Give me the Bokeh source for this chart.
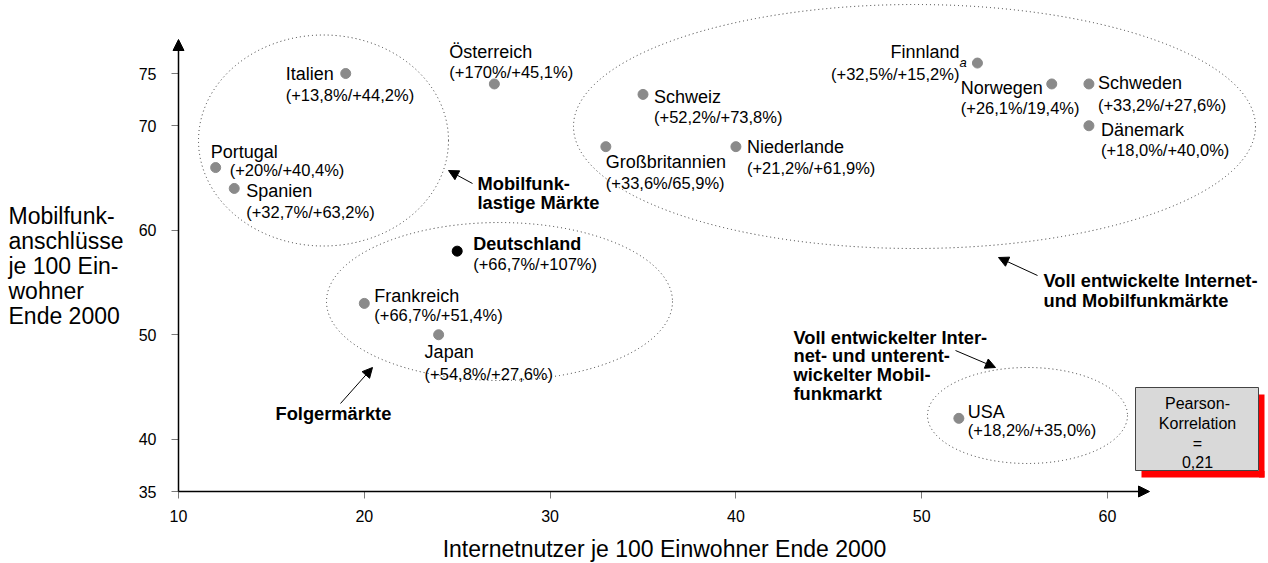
from bokeh.plotting import figure
from bokeh.models import (ColumnDataSource, Range1d, FixedTicker, Label, Arrow,
                          NormalHead)
from bokeh.core.properties import value
from bokeh.embed import file_html
from bokeh.resources import INLINE

# ---------------- data ----------------
countries = ["Italien", "Portugal", "Spanien", "Österreich", "Schweiz",
             "Großbritannien", "Niederlande", "Finnland", "Norwegen", "Schweden",
             "Dänemark", "Deutschland", "Frankreich", "Japan", "USA"]
internet_users = [19, 12, 13, 27, 35, 33, 40, 53, 57, 59, 59, 25, 20, 24, 52]
mobile_subs = [75, 66, 64, 74, 73, 68, 68, 76, 74, 74, 70, 58, 53, 50, 42]
growth = ["(+13,8%/+44,2%)", "(+20%/+40,4%)", "(+32,7%/+63,2%)", "(+170%/+45,1%)",
          "(+52,2%/+73,8%)", "(+33,6%/65,9%)", "(+21,2%/+61,9%)", "(+32,5%/+15,2%)",
          "(+26,1%/19,4%)", "(+33,2%/+27,6%)", "(+18,0%/+40,0%)", "(+66,7%/+107%)",
          "(+66,7%/+51,4%)", "(+54,8%/+27,6%)", "(+18,2%/+35,0%)"]
x_ticks = [10, 20, 30, 40, 50, 60]
y_ticks = [35, 40, 50, 60, 70, 75]
pearson = "0,21"

# ---------------- layout (screen px offsets of labels from dots) ----------------
name_off = {"Italien": (-60, 0, "left"), "Portugal": (-5, -16, "left"),
            "Spanien": (12, 3, "left"), "Österreich": (-45, -32, "left"),
            "Schweiz": (11, 3, "left"), "Großbritannien": (0, 15, "left"),
            "Niederlande": (11, 0, "left"), "Finnland": (-18, -11, "right"),
            "Norwegen": (-91, 4, "left"), "Schweden": (9, -1, "left"),
            "Dänemark": (12, 4, "left"), "Deutschland": (16, -7, "left"),
            "Frankreich": (10, -7, "left"), "Japan": (-14, 17, "left"),
            "USA": (9, -6, "left")}
growth_off = {"Italien": (-60, 21, "left"), "Portugal": (14, 2, "left"),
              "Spanien": (12, 24, "left"), "Österreich": (-45, -12, "left"),
              "Schweiz": (11, 23, "left"), "Großbritannien": (0, 36, "left"),
              "Niederlande": (11, 21, "left"), "Finnland": (-18, 11, "right"),
              "Norwegen": (-91, 24, "left"), "Schweden": (9, 21, "left"),
              "Dänemark": (12, 24, "left"), "Deutschland": (16, 13, "left"),
              "Frankreich": (10, 12, "left"), "Japan": (-14, 39, "left"),
              "USA": (9, 12, "left")}

FONT = "Liberation Sans"
W, H = 1268, 563
X0_PX, Y0_PX, KX, KY = 178, 491, 18.58, 10.45  # px of (10,35), px per unit


def dx(px):
    return 10 + (px - X0_PX) / KX


def dy(py):
    return 35 + (Y0_PX - py) / KY


p = figure(width=W, height=H, output_backend="svg", toolbar_location=None,
           x_range=Range1d(dx(0), dx(W)), y_range=Range1d(dy(H), dy(0)),
           min_border=0, min_border_left=0, min_border_right=0, min_border_top=0,
           min_border_bottom=0, title=None)
p.outline_line_color = None
p.grid.visible = False
p.background_fill_color = "white"
p.border_fill_color = "white"

for ax in (p.xaxis[0], p.yaxis[0]):
    ax.axis_line_color = None
    ax.major_tick_line_color = "#7a7a7a"
    ax.major_tick_in = 0
    ax.major_tick_out = 7
    ax.minor_tick_line_color = None
    ax.major_label_text_font = FONT
    ax.major_label_text_font_size = "16px"
    ax.major_label_text_color = "black"
p.xaxis.fixed_location = 35
p.yaxis.fixed_location = 10
p.xaxis.ticker = FixedTicker(ticks=x_ticks)
p.yaxis.ticker = FixedTicker(ticks=y_ticks)
p.xaxis.major_label_standoff = 11
p.yaxis.major_label_standoff = 15

# Pearson box, then its shadow as two strips along right and bottom edges
p.quad(left=[dx(1135)], right=[dx(1258)], top=[dy(387)], bottom=[dy(470)],
       fill_color="#d9d9d9", fill_alpha=1.0, line_color="#444444", line_width=1)
p.quad(left=[dx(1258.5), dx(1141)], right=[dx(1264), dx(1264)],
       top=[dy(394), dy(470.5)], bottom=[dy(477), dy(477)],
       fill_color="red", fill_alpha=1.0, line_color=None)

# axis lines with arrowheads
p.add_layout(Arrow(end=NormalHead(size=11, fill_color="black", line_color="black"),
                   x_start=10, y_start=35, x_end=dx(1149), y_end=35,
                   line_color="black", line_width=1.5))
p.add_layout(Arrow(end=NormalHead(size=11, fill_color="black", line_color="black"),
                   x_start=10, y_start=35, x_end=10, y_end=dy(39),
                   line_color="black", line_width=1.5))

# grouping ellipses (dotted)
ell = ColumnDataSource(dict(cx=[dx(323), dx(499), dx(914), dx(1027)],
                            cy=[dy(140), dy(301), dy(126), dy(415)],
                            w=[250 / KX, 346 / KX, 682 / KX, 200 / KX],
                            h=[211 / KY, 158 / KY, 244 / KY, 96 / KY]))
p.ellipse(x="cx", y="cy", width="w", height="h", source=ell, fill_color=None,
          line_color="#333333", line_width=1, line_dash="1 3")

# points
colors = ["black" if c == "Deutschland" else "#8a8a8a" for c in countries]
src = ColumnDataSource(dict(
    x=internet_users, y=mobile_subs, name=countries, growth=growth, color=colors,
    ndx=[name_off[c][0] for c in countries], ndy=[name_off[c][1] for c in countries],
    nal=[name_off[c][2] for c in countries],
    gdx=[growth_off[c][0] for c in countries], gdy=[growth_off[c][1] for c in countries],
    gal=[growth_off[c][2] for c in countries],
    nstyle=["bold" if c == "Deutschland" else "normal" for c in countries]))
p.scatter(x="x", y="y", size=10, fill_color="color", line_color="color", source=src)

p.text(x="x", y="y", text="name", x_offset="ndx", y_offset="ndy", text_align="nal",
       text_baseline="middle", text_font=value(FONT), text_font_size="18px",
       text_font_style="nstyle", text_color="black", source=src)
p.text(x="x", y="y", text="growth", x_offset="gdx", y_offset="gdy", text_align="gal",
       text_baseline="middle", text_font=value(FONT), text_font_size="16.5px",
       text_color="black", source=src)

# superscript for Finland
p.add_layout(Label(x=dx(959), y=dy(62), text="a", text_font=FONT, text_font_size="13px",
                   text_font_style="italic", text_baseline="middle", text_align="left",
                   text_color="black"))

# group labels with arrows
groups = [
    (["Mobilfunk-", "lastige Märkte"], 477, [183, 202]),
    (["Folgermärkte"], 275, [413]),
    (["Voll entwickelte Internet-", "und Mobilfunkmärkte"], 1043, [280, 300]),
    (["Voll entwickelter Inter-", "net- und unterent-", "wickelter Mobil-", "funkmarkt"],
     793, [337, 355, 374, 393]),
]
for lines, lx, lys in groups:
    for t, ly in zip(lines, lys):
        p.add_layout(Label(x=dx(lx), y=dy(ly), text=t, text_font=FONT,
                           text_font_size="18.3px", text_font_style="bold",
                           text_baseline="middle", text_align="left",
                           text_color="black"))

arrows = [((472, 183), (448, 170)), ((340, 403), (372, 367)),
          ((1037, 275), (998, 257)), ((955, 350), (995, 367))]
for (ax0, ay0), (ax1, ay1) in arrows:
    p.add_layout(Arrow(end=NormalHead(size=10, fill_color="black", line_color="black"),
                       x_start=dx(ax0), y_start=dy(ay0), x_end=dx(ax1), y_end=dy(ay1),
                       line_color="black", line_width=1))

for t, ly in zip(["Pearson-", "Korrelation", "=", pearson], [403, 423, 443, 461]):
    p.add_layout(Label(x=dx(1197), y=dy(ly), text=t, text_font=FONT, text_font_size="16px",
                       text_baseline="middle", text_align="center", text_color="black"))

# axis titles
p.add_layout(Label(x=dx(664), y=dy(548), text="Internetnutzer je 100 Einwohner Ende 2000",
                   text_font=FONT, text_font_size="23px", text_baseline="middle",
                   text_align="center", text_color="black"))
for t, ly in zip(["Mobilfunk-", "anschlüsse", "je 100 Ein-", "wohner", "Ende 2000"],
                 [215, 240, 265, 290, 315]):
    p.add_layout(Label(x=dx(8), y=dy(ly), text=t, text_font=FONT, text_font_size="23px",
                       text_baseline="middle", text_align="left", text_color="black"))

open("out.html", "w").write(file_html(p, INLINE))
